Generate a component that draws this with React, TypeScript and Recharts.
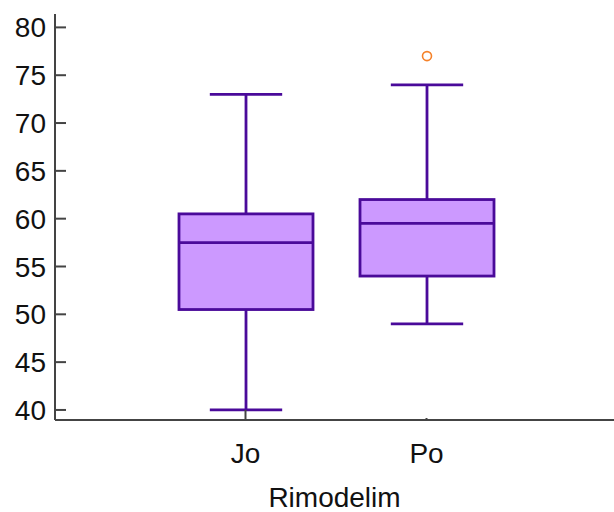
import { Bar, ComposedChart, XAxis, YAxis } from 'recharts';

const categories = ['Jo', 'Po'];
const mins = [40, 49];
const q1s = [50.5, 54];
const medians = [57.5, 59.5];
const q3s = [60.5, 62];
const maxs = [73, 74];
const outliers = [[], [77]];
const yTicks = [40, 45, 50, 55, 60, 65, 70, 75, 80];

const FONT = '"Liberation Sans", Arial, sans-serif';
const AXIS = '#444444';
const STROKE = '#4a0a9a';
const FILL = '#cc99ff';
const OUTLIER = '#f5822a';
const SW = 2.8;

const data = categories.map((name, i) => ({
  name,
  range: [mins[i], maxs[i]],
  min: mins[i],
  q1: q1s[i],
  median: medians[i],
  q3: q3s[i],
  max: maxs[i],
  outliers: outliers[i],
}));

function BoxShape(props: any) {
  const { x, y, width, height } = props;
  const d = props.payload ?? props;
  const k = height / (d.max - d.min);
  const py = (v: number) => y + (d.max - v) * k;
  const cx = x + width / 2;
  const cap = width * 0.27;
  return (
    <g>
      <line x1={cx} x2={cx} y1={py(d.max)} y2={py(d.q3)} stroke={STROKE} strokeWidth={SW} />
      <line x1={cx} x2={cx} y1={py(d.q1)} y2={py(d.min)} stroke={STROKE} strokeWidth={SW} />
      <line x1={cx - cap} x2={cx + cap} y1={py(d.max)} y2={py(d.max)} stroke={STROKE} strokeWidth={SW} />
      <line x1={cx - cap} x2={cx + cap} y1={py(d.min)} y2={py(d.min)} stroke={STROKE} strokeWidth={SW} />
      <rect
        x={x}
        y={py(d.q3)}
        width={width}
        height={py(d.q1) - py(d.q3)}
        fill={FILL}
        stroke={STROKE}
        strokeWidth={SW}
      />
      <line x1={x} x2={x + width} y1={py(d.median)} y2={py(d.median)} stroke={STROKE} strokeWidth={SW} />
      {d.outliers.map((v: number, i: number) => (
        <circle key={i} cx={cx} cy={py(v)} r={4.5} fill="none" stroke={OUTLIER} strokeWidth={1.6} />
      ))}
    </g>
  );
}

function YTick({ x, y, payload }: any) {
  return (
    <g>
      <line x1={x + 9} x2={x + 20} y1={y} y2={y} stroke={AXIS} strokeWidth={2} />
      <text x={x} y={y} dy="0.36em" textAnchor="end" fontSize={28} fontFamily={FONT} fill="#111">
        {payload.value}
      </text>
    </g>
  );
}

const xTickLen = [10, 2];

function XTick({ x, y, payload, index }: any) {
  return (
    <g>
      <line x1={x} x2={x} y1={y} y2={y - xTickLen[index]} stroke={AXIS} strokeWidth={2} />
      <text x={x} y={y + 43} textAnchor="middle" fontSize={28} fontFamily={FONT} fill="#111">
        {payload.value}
      </text>
    </g>
  );
}

export default function App() {
  return (
    <div style={{ position: 'absolute', left: 0, top: 0, background: '#fff' }}>
      <ComposedChart
        width={614}
        height={512}
        data={data}
        margin={{ top: 14, right: 0, bottom: 0, left: 0 }}
      >
        <XAxis
          dataKey="name"
          height={92}
          padding={{ left: 100, right: 97 }}
          axisLine={{ stroke: AXIS, strokeWidth: 2 }}
          tickLine={false}
          tickSize={0}
          tickMargin={0}
          tick={<XTick />}
          label={{
            value: 'Rimodelim',
            position: 'insideBottom',
            offset: 5,
            fontSize: 28,
            fontFamily: FONT,
            fill: '#111',
          }}
        />
        <YAxis
          type="number"
          width={55}
          domain={[38.95, 81.4]}
          ticks={yTicks}
          allowDataOverflow
          axisLine={{ stroke: AXIS, strokeWidth: 2 }}
          tickLine={false}
          tickSize={0}
          tickMargin={9}
          tick={<YTick />}
        />
        <Bar dataKey="range" barSize={134} shape={<BoxShape />} isAnimationActive={false} />
      </ComposedChart>
    </div>
  );
}
